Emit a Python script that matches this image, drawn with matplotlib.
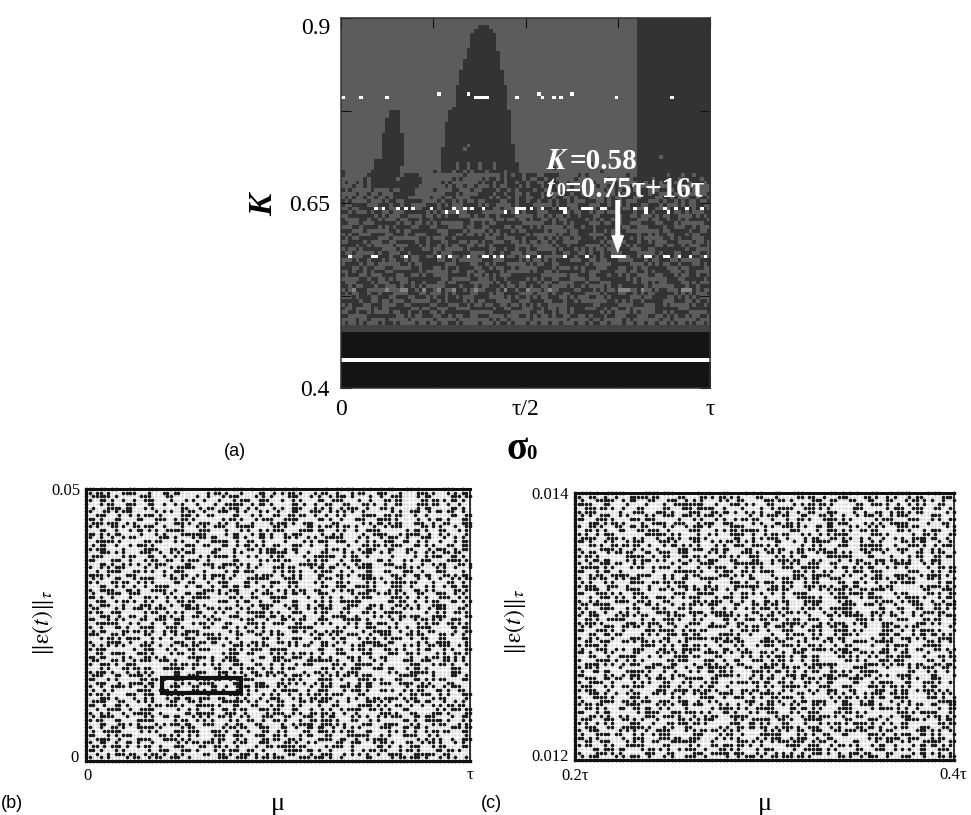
import numpy as np
import matplotlib
matplotlib.use('Agg')
import matplotlib.pyplot as plt
from matplotlib.colors import ListedColormap
from matplotlib.patches import Rectangle

plt.rcParams['font.family'] = ['Liberation Serif', 'DejaVu Serif']
plt.rcParams['mathtext.fontset'] = 'stix'

W, H = 971, 815

# panel (a): 100 x 100 cells, row 0 at the top (K = 0.9)
GRID_A = 100
# solid regions: row -> (first col, last col)
big_peak = {2: (37, 39), 3: (36, 40), 4: (35, 41), 5: (35, 41), 6: (35, 41), 7: (35, 41), 8: (34, 41),
            9: (34, 42), 10: (34, 42), 11: (33, 42), 12: (33, 42), 13: (33, 42), 14: (32, 43),
            15: (32, 43), 16: (32, 43), 17: (32, 43), 18: (31, 44), 19: (31, 44), 20: (31, 44),
            21: (31, 44), 22: (31, 44), 23: (31, 44), 24: (30, 44), 25: (29, 45), 26: (29, 45),
            27: (29, 45), 28: (28, 45), 29: (28, 45), 30: (28, 45), 31: (28, 45), 32: (28, 45),
            33: (28, 45), 34: (28, 46), 35: (27, 46), 36: (27, 46), 37: (27, 46), 38: (27, 46),
            39: (27, 47), 40: (27, 47), 41: (27, 47)}
small_peak = {25: (13, 15), 26: (13, 15), 27: (12, 15), 28: (12, 15), 29: (12, 15), 30: (12, 15),
              31: (11, 16), 32: (11, 16), 33: (11, 16), 34: (11, 16), 35: (11, 16), 36: (11, 16),
              37: (11, 16), 38: (9, 16), 39: (9, 16), 40: (9, 15), 41: (8, 15), 42: (8, 15),
              43: (8, 14), 44: (8, 14), 45: (8, 15)}
right_block_cols = (80, 99)
right_block_last_row = 44
# lighter cells showing through the solid regions
holes = {33: [26], 34: [34], 35: [33], 37: [86], 39: [31, 34, 37, 41], 40: [31, 34, 37, 41],
         41: [30, 33, 35, 39, 44], 42: [88, 92, 95], 43: [84, 91, 97], 44: [82, 86, 90, 94, 98]}

# scattered dark cells, rows 36 to 82, hex = 4 cells per digit (estimated by eye)
noise_first_row = 36
noise_a = [
    '0000000000000000000000000', '0000000000000000000000000', '0000000000000000000000000',
    '0000000000000000100000000', '0000000000000040000000000', '8000004000020000020020000',
    '810078004015b9e0a00410000', '0204fc0282d7a6c1008102000', '4a09fc1405b6d9e408204c000',
    '1203f80a48a75dc204a20ce00', 'a084f04313daf66a412ae3260', '0923f00e87b65d1d84b3ec4c9',
    '524bc0921f5acdb2e14e79a36', 'a1167c2d49e6db5a3968e2d49',
    '9e3b61d47ac2f058e36b9d14c', '27c8f35e0d916ba4c7f2385ea', 'd1647ea93c05b8f2691ed74a3',
    '3fa8c25716de094b73ec8a615', '86d13b7fe0492ca7d58f136be', 'c47e92a06d3f81b5e24c79d03',
    '1bd5e7384cf26a09b7d31ec68', 'e2069fc7a15d3e84f6b8027d9', '58f3b1e64a97d02ce18f6b3a7',
    'a7c4068dfe31b95276cd41ae3', '3d19f6e7258ca4b0fd3768e12', 'f6823ad4c97e105bc28af9346',
    '4be17c905f36d82ea91c67fb0', '9058dfa3e16c47b32d8f05ce6', 'c3fb2648a7d91e06f5b37a4d8',
    '16e9a7cd038f52bc64e1d3907', '7a40d3f1e6b8299fd07c2a6e5', 'e58c1b96f34d07a2b8e69f13c',
    '2d73fa04c9e8165fa3c4d78b0', 'b91e6587d2a3fc04e76b19d36', '06ca3fe418b7d59c23fa80e7d',
    '8f472dc9e05b3a61dc7e94f28', 'd3b16a0f74e92c85a16fd03b7', '4e08f7b3a1d6c29e7538cb1f4',
    'a6dc3915e74f08b3c2e6a7d51', '1739ceb68f0ad4e5197c4f2a8', 'fb2460d7a9c31e7680d5be396',
    '5ce19f38d264ab07f3e1c682d', '90a7e4c61fb38d25c69a07e3f', '3684db2fe07c19a5fd4286bc1',
    'c1fe539a6708d4b32ec7195a6', '0908204100a41004120a02408', '4a2d0926845a24912c8924a52']

# white and faint cells per row, columns
white_cells = {
    20: [26, 34, 53, 62],
    21: [0, 5, 12, 36, 37, 38, 39, 47, 54, 57, 59, 74, 89],
    51: [9, 11, 15, 17, 19, 24, 30, 33, 35, 38, 47, 48, 49, 51, 54, 59, 60, 65, 66, 67, 70, 71, 79, 82, 87, 90, 93, 97],
    52: [28, 31, 44, 47, 60, 82, 88],
    64: [2, 8, 9, 17, 26, 29, 34, 38, 39, 41, 43, 50, 53, 60, 66, 73, 74, 75, 76, 82, 83, 87, 88, 91, 94, 98],
    92: list(range(GRID_A)),
}
faint_cells = {73: [3, 12, 16, 17, 22, 26, 30, 36, 44, 50, 56, 75, 76, 77, 81, 92, 93, 94]}

# panel (b) dot pattern, 105 columns x 74 rows, estimated by eye
dots_b = [
    '6d8c71e018e4b2c04d94b1a0722', '5a3c46c05a2195a2c8b1c43a2b4', '3e81c30245c2a1c52e849c2c1d8',
    '4d24e11488b9c4a19c246c1b5a0', '0b1c64a213e5a0d2631a4c3b244', '23d8a03165ca14e2a5c8d02c1a6',
    '46b8152c8e5148c72a9014e5b22', '1c4ae83a60c519b24a1e6c4819a', '68c31cb405a2e3c1a471e825a34',
    '3b9410e9ca442e9c1815ac7263c', '51a6e4229c7c1a0d6b425c1a89c', '0c8b53e1c2295c3d8a4f0168c52',
    '6ac1143f82c5a2e09413c5e4a12', '492c0e85b0d1a34a7c28b91c4a6', '1f40d8a23e4c8215ce4a73288b1',
    '2c8ba01cc65a98e4411b5c6a334', '5c20f1a4188d72c05a2e3185cb0', '0ea1c95c30a17e48c29ca14a6c2',
    '382c64a15e8a2c13f2c8104b9a5', '61c8b32e40c15b0ac4e1a29c3d0', '0d2a5c18e7a9043e8a5c7212c6a',
    '4ae0917c2c4a1d85b13c0ea1489', '13c6a4e082dc15a2e48c6391c24', '7a1c0532bc82e4a18d3c1a6c6b0',
    '28c5e1a4a50fc3a1641e8c2495c', '51b2a0cc4e1a39c28d0a5ec2322', '0ca49e1326d8a140ce7a1c8a5b4',
    '4f1a3c80e9c24ab3158e2c6a0d1', '23ce051b8a44e2d1c0b96a31ca4', '6908d2a7c1a63e08a45c1d28e52',
    '1cb4a26c0e5918c2a7e0364b1a8', '4e21c93a8045e2c9a1c68d23c14', '30a75c1e6b28c14ae30c92a5c62',
    '59c0b2a3144fa8e2c51a7c094d2', '0e4c8d26a1c3b5109e42a6e3c18', '62a19ce0582c46b1c3e8145a9c2',
    '1f8a24c5a30e9c62a14dc82b350', '48d1e3a0c65281fc0a4e293c1b4', '2c36a59e014ca8d25c13e4a6098',
    '71a0c4b2e8632c05a9c4e1b0d24', '0b5e291c7a40c8e3162a5c98c32', '43c8a0e5b1268d44ca1f3029e16',
    '2aa1c93604eac158d0b3c2a6e54', '5c04e28dc1a73e018cb46a2c519', '19e3a16405cc2ab48e1c39a14d2',
    '6c28d40fa3819ce521a4c08b6a4', '31a5ce8225c41b0fe8a2439c6a0', '4e9c01b6a8e3245c1a7c80e2d13',
    '0a36c7e4192ca580d4e3b1681c6', '5d12a0c38ea66c1349c028fa1c4', '38cf40ce0a1352e8ab5c07c2196',
    '6281b4e2d97c05a1e43a8c6ac30', '1c4f60a9e0c38d52a12ce794305', '49e8a1c6325bca04e76c013a5c2',
    '2503ce86b44a17c9c2e8d2b1a64', '5a1ce36041e8a92b5c3004dca38', '0e84a2d9cc5138a6e14b7ac2c15',
    '3c62a18d07ea4c35c90ea16c4a2', '64d05ba3e8c62ca1183d4c92b61', '13c9e04a26b1d8c4a5e6a3015dc',
    '4a27c81be3905ca6d240e8c3a19', '2f10a6c54d28e31cb0a95c6e134', '58c3e0b2a14c9a26e8c5034fa28',
    '0c6a15d8e26304bcea1c78a2c51', '49a3e82c05b1c64d92a0e3681dc', '27c150ee3a48ca19d58c2a4b630',
    '62b80d4a1ce39a2c61f8a3c5014', '1e43c7a82c50d9a1e64bc02a93c', '4c9a2056e8b1c34a0ce2d1968a5',
    '35d2c8e19a426fb05c81a4e2c30', '68a04e3a15cc83ed2096c5a1b42', '12ecb4a0cd3a5184e2a93c7e604',
    '4a1659c80e72dc3ba40c16e8a92', 'ffffffffffffffffffffffffffe']

# panel (c) dot pattern, 103 columns x 73 rows, estimated by eye
dots_c = [
    '3a7c1ee048c2a31c06a8c5e1620', '4c91f60c35a8620d91c34a2c1d8', '23e58c72a14c1da0e6318c5a924',
    '78c2109fe23a8c15b40ce92a310', '1da460c77c8425e3a81c0b9c642', '5c08e3a1c6d2a3498e1265ac0b0',
    '29ca14e75d012ec6348ba5c0e12', '63a1dc08a296c44d1ea05c38a64', '0eb4279c5ce0a3680dc2a7c1195',
    '4d19b0a2e83c14ea6c2951d80a2', '1a8c6e41c2b7d0384ea6c1a2e36', '52e01fa84a3c96c52bc0e81346a',
    '3c74a269d018ae42c6a5129ec80', '68a2e1d0c56a8312f8c4a0d6251', '0d36c8b5429cea04a1c7e23a5c0',
    '41e8a20ee6c3158db206e9c4a18', '2c5b19ce0a874d2c5ea3108cb34', '5a03e4c6d1a9c2a60fe1842c6d2',
    '16c2ba894e30c5d8a12c76a4e01', '49d8a0263c1fe4a9c60b53e2a18', '3ea165c84b92a0e7c2d58a4136c',
    '62c8041fa2e6bc1a945ce038a62', '0b3e78a2c1d5041cf8a263c5e94', '4d95c0a63e2182dac704e9b1a26',
    '28a1e6dc083a5ce2c19a46f02c8', '5c72084e9a1fc6a3b4d82c05ea2', '1e43c9a2d6508ec12ba6f4031c8',
    '63a8e01c7c26a49e05bd82c1a64', '09d4b3a5c2e6108fa3c5e17a2c2', '4a1e68c0d7249ac3e1605cb892a',
    '37c09a25ae18d642c0f3a21c6e4', '51e2c68d0492bac5a7e0318c6a0', '2c8a43d1e7a0c56a12e8d493b0c',
    '4e16b05c93ea2c810d7ca6142e8', '1a7c24e8a0d3b659c40ea1c3628', '5d03ae61c44c18fa2b961c0ea32',
    '28e6c9120f8ad3a4e6c21b5804c', '63a41de5b026c8e1a3d41c97a20', '0cd82a76c1e9045ca2e83b16d4a',
    '4a21e0c3f7581a62cd8094ea3c6', '19c6b54a02ec3d8a149e7c21a58', '5e803ca6d1145ce9a2608bc3e14',
    '2394e1a7c8ca0216f5d81a4c6a2', '68a0c2d51ea7349c02e6b8c1054', '0c4f891ec3052ba6c1a94de2360',
    '43d2a06e1c98e5a4c06a3b8192c', '1ea5c7309a4c1682fe03d5ac6c4', '5a081ce26fa33cd9a41e082b9a4',
    '26c3e8914da0eb52c6a7c03149c', '60a5d12c03e8a4761dcb29e0c32', '1cd94ba3e6012c95ae3c40a8e16',
    '4f20a8c5162ed9a34c18bc63a52', '38a6e1c92c4054fa38e1d6a2c04', '5c41039eda26c8a14e3072cba91',
    '0e92c6a4b1e53d0c8a92e6c1548', '47a1d0283c9ca6e4056ab3c1d28', '21e6b9ce4a038d16f2c584a03e4',
    '5b03c2a6e1492ca8d0e7a12cc60', '1a8cd94205ea7c36a1e0bd48263', '62c05e3ba8d14e29c36a01d7c58',
    '0d4a1ce8963e02c5ba8c24e16a4', '38e6a20d5c14f9a3e061c87a2c4', '52a1c46ed039a8c22b5e94c036a',
    '1c67e8a3014db2e9c50da2c7184', '4e0a93c2b6a8154ce3762c0ea52', '23d8a5c0e1643f0a98c1d2e6a34',
    '6a04e1d9c2a8572e4c016f38b1c', '19c2a63f840ea5dcb2184ca3e60', '58a3e0c146ed2079c5a8b216d42',
    '06ec2d4b91a85c13ea0c72a6398', '43a81c60e7dc52a4e93b0c16a5c', '2e15c8a3904ba6ed01a5c8e2364',
    'ffffffffffffffffffffffffff0']

# rectangle drawn in (b), in axis units
zoom_box_x = (0.197, 0.404)
zoom_box_y = (0.0125, 0.0152)


def place(x0, y0, x1, y1):
    """Axes position from pixel edges in the 971x815 picture."""
    return [x0 / W, 1 - y1 / H, (x1 - x0) / W, (y1 - y0) / H]


def hex_rows(rows, ncols):
    out = []
    for row in rows:
        bits = ''.join(f'{int(ch, 16):04b}' for ch in row).ljust(ncols, '0')[:ncols]
        out.append([b == '1' for b in bits])
    return np.array(out)


def build_panel_a():
    m = np.full((GRID_A, GRID_A), 3)
    noise = hex_rows(noise_a, GRID_A)
    for i in range(noise.shape[0]):
        m[noise_first_row + i][noise[i]] = 1
    m[:right_block_last_row + 1, right_block_cols[0]:right_block_cols[1] + 1] = 1
    for region in (big_peak, small_peak):
        for r, (c0, c1) in region.items():
            m[r, c0:c1 + 1] = 1
    for r, cols in holes.items():
        m[r, cols] = 3
    m[83:85] = 2
    m[85:] = 0
    for r, cols in faint_cells.items():
        m[r, cols] = 4
    for r, cols in white_cells.items():
        m[r, cols] = 5
    return m


def dot_panel(ax, rows, ncols, xr, yr):
    mask = hex_rows(rows, ncols)
    mask[:, 0] = True
    nrows = mask.shape[0]
    xs = np.linspace(xr[0], xr[1], ncols)
    ys = np.linspace(yr[1], yr[0], nrows)
    xx, yy = np.meshgrid(xs, ys)
    ax.scatter(xx.ravel(), yy.ravel(), s=3.6, color='#d8d8d8', linewidths=0, clip_on=False)
    ax.scatter(xx[mask], yy[mask], s=7, color='#1a1a1a', linewidths=0, clip_on=False)
    ax.set_xlim(xr)
    ax.set_ylim(yr)
    ax.set_xticks([])
    ax.set_yticks([])
    for name, spine in ax.spines.items():
        spine.set_linewidth(1.2 if name == 'right' else 2.2)
        spine.set_color('#111111')
        spine.set_zorder(5)


fig = plt.figure(figsize=(W / 100, H / 100), dpi=100, facecolor='white')

# panel (a)
ax_a = fig.add_axes(place(341, 18, 710, 388))
cmap_a = ListedColormap(['#141414', '#333333', '#424242', '#5c5c5c', '#858585', '#ffffff'])
ax_a.imshow(build_panel_a(), cmap=cmap_a, vmin=0, vmax=5, extent=[0, 1, 0.4, 0.9],
            aspect='auto', interpolation='nearest')
ax_a.set_xticks([0, 0.25, 0.5, 0.75, 1])
ax_a.set_xticklabels(['0', '', 'τ/2', '', 'τ'], fontsize=17)
ax_a.set_yticks([0.4, 0.525, 0.65, 0.775, 0.9])
ax_a.set_yticklabels(['0.4', '', '0.65', '', '0.9'], fontsize=17)
ax_a.tick_params(direction='in', length=7, width=0.8, top=True, right=True, color='#111111', pad=8)
for spine in ax_a.spines.values():
    spine.set_linewidth(1.1)
    spine.set_color('#333333')
ax_a.get_yticklabels()[4].set_verticalalignment('top')

fig.text(264 / W, 1 - 205 / H, 'K', fontsize=24, style='italic', fontweight='bold', rotation=90,
         ha='center', va='center')
fig.text(506 / W, 1 - 449 / H, 'σ', fontsize=28, fontweight='bold', ha='left', va='center')
fig.text(526 / W, 1 - 454 / H, '0', fontsize=15, fontweight='bold', ha='left', va='center')
fig.text(235 / W, 1 - 451 / H, '(a)', fontsize=13, family='Liberation Sans', ha='center', va='center')

ax_a.text(0.556, 0.7055, '$\\mathbfit{K}$', color='white', fontsize=21, fontweight='bold', va='center')
ax_a.text(0.620, 0.7055, '=0.58', color='white', fontsize=21, fontweight='bold', va='center')
ax_a.text(0.556, 0.6680, '$\\mathbfit{t}$', color='white', fontsize=21, fontweight='bold', va='center')
ax_a.text(0.583, 0.6650, '0', color='white', fontsize=13, fontweight='bold', va='center')
ax_a.text(0.606, 0.6680, '=0.75τ+16τ', color='white', fontsize=21, fontweight='bold', va='center')
ax_a.annotate('', xy=(0.75, 0.582), xytext=(0.75, 0.654),
              arrowprops=dict(arrowstyle='simple,head_length=1.3,head_width=0.95,tail_width=0.36',
                              mutation_scale=10, color='white', lw=0, shrinkA=0, shrinkB=0))

# panel (b)
ax_b = fig.add_axes(place(86, 489, 470, 761))
dot_panel(ax_b, dots_b, 105, (0, 1), (0, 0.05))
ax_b.add_patch(Rectangle((zoom_box_x[0], zoom_box_y[0]), zoom_box_x[1] - zoom_box_x[0],
                         zoom_box_y[1] - zoom_box_y[0], fill=False, ec='#111111', lw=3, zorder=6))
fig.text(80 / W, 1 - 491 / H, '0.05', fontsize=12, ha='right', va='center')
fig.text(79 / W, 1 - 758 / H, '0', fontsize=12, ha='right', va='center')
fig.text(88 / W, 1 - 776 / H, '0', fontsize=12, ha='center', va='center')
fig.text(470 / W, 1 - 775 / H, 'τ', fontsize=12, ha='center', va='center')
fig.text(278 / W, 1 - 804 / H, 'μ', fontsize=19, ha='center', va='center')
fig.text(43 / W, 1 - 623 / H, r'$\|\mathrm{\varepsilon}(t)\|_{\tau}$', fontsize=17, rotation=90, ha='center', va='center')
fig.text(12 / W, 1 - 803 / H, '(b)', fontsize=13, family='Liberation Sans', ha='center', va='center')

# panel (c)
ax_c = fig.add_axes(place(575, 493, 954, 760))
dot_panel(ax_c, dots_c, 103, (0.2, 0.4), (0.012, 0.014))
fig.text(569 / W, 1 - 495 / H, '0.014', fontsize=12, ha='right', va='center')
fig.text(569 / W, 1 - 757 / H, '0.012', fontsize=12, ha='right', va='center')
fig.text(575 / W, 1 - 776 / H, '0.2τ', fontsize=12, ha='center', va='center')
fig.text(953 / W, 1 - 775 / H, '0.4τ', fontsize=12, ha='center', va='center')
fig.text(765 / W, 1 - 804 / H, 'μ', fontsize=19, ha='center', va='center')
fig.text(515 / W, 1 - 622 / H, r'$\|\mathrm{\varepsilon}(t)\|_{\tau}$', fontsize=17, rotation=90, ha='center', va='center')
fig.text(491 / W, 1 - 803 / H, '(c)', fontsize=13, family='Liberation Sans', ha='center', va='center')

fig.savefig('out.png', dpi=100)
